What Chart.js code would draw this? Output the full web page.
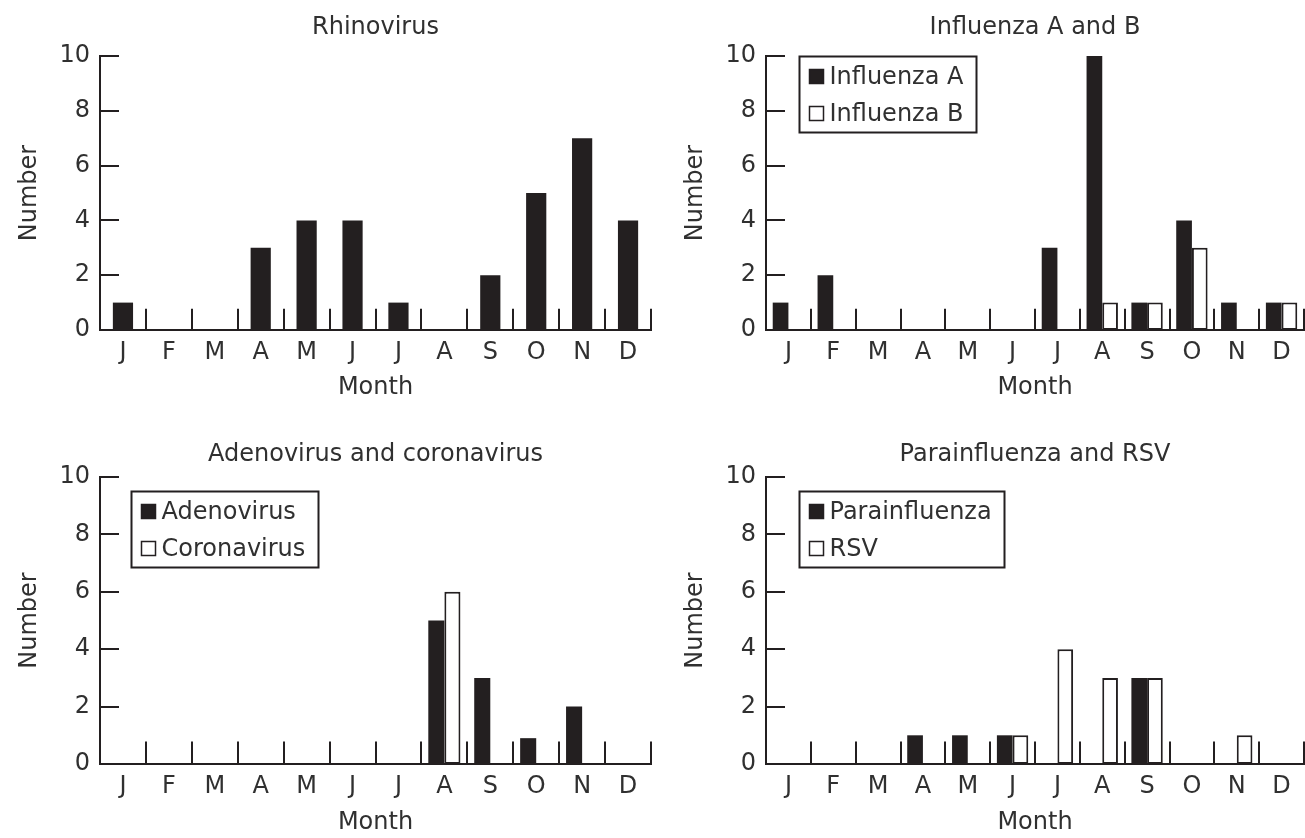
<!DOCTYPE html>
<html>
<head>
<meta charset="utf-8">
<script src="https://cdn.jsdelivr.net/npm/chart.js@4.4.1/dist/chart.umd.min.js"></script>
<style>
    html, body { margin: 0; padding: 0; background: #fff; }
    #page { position: relative; width: 1305px; height: 838px; overflow: hidden; }
    .panel { position: absolute; }
</style>
</head>
<body>
<div id="page">
    <div class="panel" style="left:0;top:0;width:652px;height:410px"><canvas id="rhinoChart"></canvas></div>
    <div class="panel" style="left:652px;top:0;width:653px;height:410px"><canvas id="fluChart"></canvas></div>
    <div class="panel" style="left:0;top:418px;width:652px;height:420px"><canvas id="adenoChart"></canvas></div>
    <div class="panel" style="left:652px;top:418px;width:653px;height:420px"><canvas id="paraChart"></canvas></div>
</div>
<script>
const months = ["J", "F", "M", "A", "M", "J", "J", "A", "S", "O", "N", "D"];

const rhinovirus = [1, 0, 0, 3, 4, 4, 1, 0, 2, 5, 7, 4];
const influenzaA = [1, 2, 0, 0, 0, 0, 3, 10, 1, 4, 1, 1];
const influenzaB = [0, 0, 0, 0, 0, 0, 0, 1, 1, 3, 0, 1];
const adenovirus = [0, 0, 0, 0, 0, 0, 0, 5, 3, 0.9, 2, 0];
const coronavirus = [0, 0, 0, 0, 0, 0, 0, 6, 0, 0, 0, 0];
const parainfluenza = [0, 0, 0, 1, 1, 1, 0, 0, 3, 0, 0, 0];
const rsv = [0, 0, 0, 0, 0, 1, 4, 3, 3, 0, 1, 0];

const yTicks = [0, 2, 4, 6, 8, 10];

const FONT = "'DejaVu Sans', 'Liberation Sans', sans-serif";
const INK = "#231f20";
const TEXT = "#303030";
const TITLE_SIZE = 24;
const TICK_SIZE = 24;

// y ticks pointing into the plot, short dividers between months
const axisMarks = {
    id: "axisMarks",
    afterDraw(chart) {
        const { ctx, scales: { x, y } } = chart;
        ctx.save();
        ctx.strokeStyle = INK;
        ctx.lineWidth = 2;
        ctx.beginPath();
        yTicks.forEach((v) => {
            const py = Math.round(y.getPixelForValue(v));
            ctx.moveTo(x.left, py);
            ctx.lineTo(x.left + 19, py);
        });
        const base = y.getPixelForValue(0);
        const top = y.getPixelForValue(0.78);
        for (let i = 0; i < months.length; i++) {
            const px = Math.round(x.getPixelForValue(i + 0.5));
            ctx.moveTo(px, base);
            ctx.lineTo(px, top);
        }
        ctx.stroke();
        ctx.restore();
    },
};

// boxed legend inside the plot, like the printed figure
const boxLegend = {
    id: "boxLegend",
    afterDraw(chart, args, opts) {
        if (!opts || !opts.show) return;
        const { ctx, chartArea } = chart;
        const sets = chart.data.datasets;
        const sq = 14, padL = 10, gap = 6, padR = 13, rowH = 37;
        ctx.save();
        ctx.font = TICK_SIZE + "px " + FONT;
        const textW = Math.max(...sets.map((d) => ctx.measureText(d.label).width));
        const w = Math.round(padL + sq + gap + textW + padR);
        const h = 76;
        const bx = Math.round(chartArea.left + opts.dx) + 0.5;
        const by = Math.round(chartArea.top + opts.dy) + 0.5;
        ctx.fillStyle = "#fff";
        ctx.fillRect(bx, by, w, h);
        ctx.strokeStyle = INK;
        ctx.lineWidth = 2;
        ctx.strokeRect(bx, by, w, h);
        sets.forEach((d, i) => {
            const cy = by + 20 + i * rowH;
            ctx.fillStyle = d.backgroundColor;
            ctx.fillRect(bx + padL, cy - sq / 2, sq, sq);
            ctx.lineWidth = 1.5;
            ctx.strokeRect(bx + padL, cy - sq / 2, sq, sq);
            ctx.fillStyle = TEXT;
            ctx.textBaseline = "middle";
            ctx.textAlign = "left";
            ctx.fillText(d.label, bx + padL + sq + gap, cy + 1);
        });
        ctx.restore();
    },
};

function filledSet(label, data, pct) {
    return {
        label: label,
        data: data,
        backgroundColor: INK,
        borderWidth: 0,
        categoryPercentage: pct,
        barPercentage: 1,
    };
}

function openSet(label, data, pct) {
    return {
        label: label,
        data: data,
        backgroundColor: "#ffffff",
        borderColor: INK,
        borderWidth: 2,
        borderSkipped: false,
        categoryPercentage: pct,
        barPercentage: 1,
    };
}

function makeChart(id, g, title, datasets, legend) {
    const tlh = TITLE_SIZE * 1.2;
    const klh = TICK_SIZE * 1.2;
    return new Chart(document.getElementById(id), {
        type: "bar",
        data: { labels: months, datasets: datasets },
        options: {
            responsive: true,
            maintainAspectRatio: false,
            animation: false,
            layout: { padding: { left: 0, right: g.padRight, top: 0, bottom: 0 } },
            plugins: {
                legend: { display: false },
                tooltip: { enabled: false },
                title: {
                    display: true,
                    text: title,
                    fullSize: false,
                    color: TEXT,
                    font: { family: FONT, size: TITLE_SIZE, weight: "normal" },
                    padding: { top: g.titleY - tlh / 2, bottom: g.plotTop - g.titleY - tlh / 2 },
                },
                boxLegend: legend,
            },
            scales: {
                x: {
                    grid: { display: false, drawTicks: false },
                    border: { display: true, color: INK, width: 2 },
                    ticks: {
                        color: TEXT,
                        font: { family: FONT, size: TICK_SIZE },
                        padding: g.tickY - g.plotBottom - klh / 2,
                        maxRotation: 0,
                        autoSkip: false,
                    },
                    title: {
                        display: true,
                        text: "Month",
                        color: TEXT,
                        font: { family: FONT, size: TITLE_SIZE },
                        padding: { top: 0, bottom: Math.max(0, g.height - g.monthY - tlh / 2) },
                    },
                    afterFit: (s) => { s.height = g.height - g.plotBottom; },
                },
                y: {
                    min: 0,
                    max: 10,
                    grid: { display: false, drawTicks: false },
                    border: { display: true, color: INK, width: 2 },
                    ticks: {
                        stepSize: 2,
                        padding: 10,
                        color: TEXT,
                        font: { family: FONT, size: TICK_SIZE },
                    },
                    title: {
                        display: true,
                        text: "Number",
                        color: TEXT,
                        font: { family: FONT, size: TITLE_SIZE },
                        padding: { top: g.numberX - tlh / 2, bottom: 0 },
                    },
                    afterFit: (s) => { s.width = g.axisX; },
                },
            },
        },
        plugins: [axisMarks, boxLegend],
    });
}

const topLeft = { height: 410, axisX: 100, padRight: 1, plotTop: 56, plotBottom: 330, titleY: 28, tickY: 353, monthY: 388, numberX: 30 };
const topRight = { height: 410, axisX: 114, padRight: 1, plotTop: 56, plotBottom: 330, titleY: 28, tickY: 353, monthY: 388, numberX: 44 };
const bottomLeft = { height: 420, axisX: 100, padRight: 1, plotTop: 59, plotBottom: 346, titleY: 37, tickY: 369, monthY: 405, numberX: 30 };
const bottomRight = { height: 420, axisX: 114, padRight: 1, plotTop: 59, plotBottom: 346, titleY: 37, tickY: 369, monthY: 405, numberX: 44 };

makeChart("rhinoChart", topLeft, "Rhinovirus",
    [filledSet("Rhinovirus", rhinovirus, 0.44)], { show: false });

makeChart("fluChart", topRight, "Influenza A and B",
    [filledSet("Influenza A", influenzaA, 0.7), openSet("Influenza B", influenzaB, 0.7)],
    { show: true, dx: 33, dy: 0 });

makeChart("adenoChart", bottomLeft, "Adenovirus and coronavirus",
    [filledSet("Adenovirus", adenovirus, 0.7), openSet("Coronavirus", coronavirus, 0.7)],
    { show: true, dx: 31, dy: 14 });

makeChart("paraChart", bottomRight, "Parainfluenza and RSV",
    [filledSet("Parainfluenza", parainfluenza, 0.7), openSet("RSV", rsv, 0.7)],
    { show: true, dx: 33, dy: 14 });
</script>
</body>
</html>
